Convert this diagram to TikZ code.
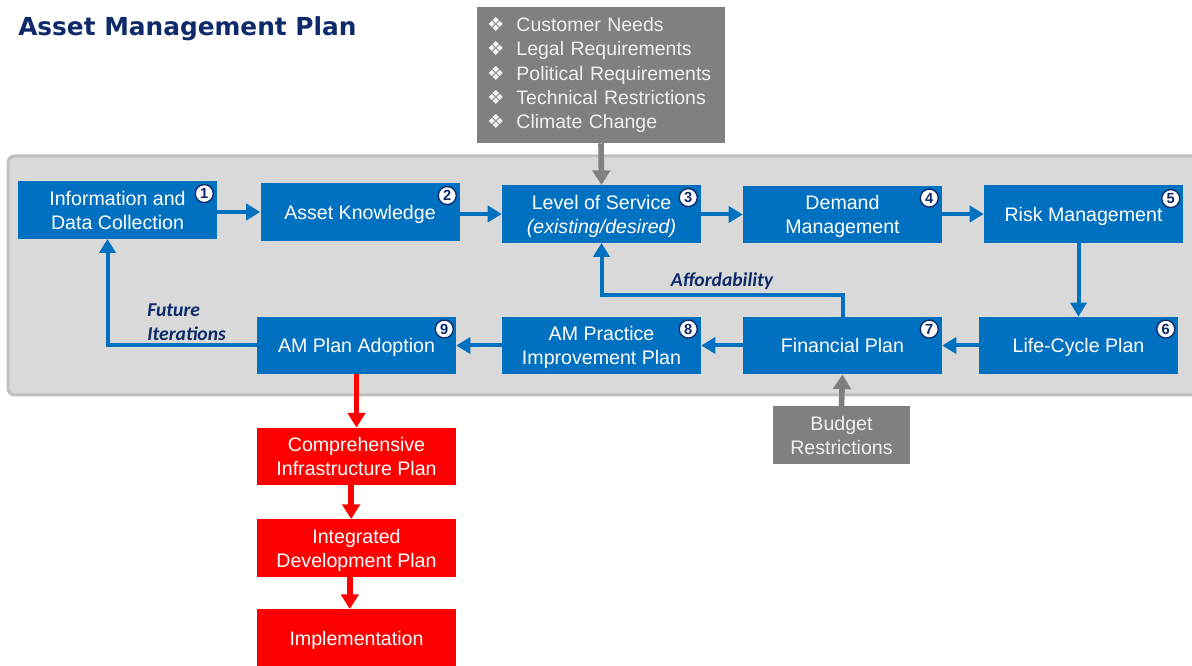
\documentclass[tikz,border=0pt]{standalone}
\usepackage{fontspec}
\usepackage{tikz}
\usetikzlibrary{arrows.meta}
\setmainfont{Liberation Sans}
\newfontfamily\titlefont{DejaVu Sans}
\newfontfamily\symfont{DejaVu Sans}
\newfontfamily\notefont{Carlito}
\definecolor{amblue}{HTML}{0070C0}
\definecolor{amred}{HTML}{FF0000}
\definecolor{amgray}{HTML}{808080}
\definecolor{panelfill}{HTML}{D9D9D9}
\definecolor{panelline}{HTML}{BFBFBF}
\definecolor{navy}{HTML}{0E2A6B}
\newcommand{\dm}{{\symfont ❖}\hspace{9pt}}

\begin{document}
\begin{tikzpicture}[x=0.75pt,y=-0.75pt,
    box/.style={fill=amblue, text=white, minimum width=149.25pt, minimum height=43pt, inner sep=0pt, align=center, font=\fontsize{14.7}{18}\selectfont},
    low/.style={text depth=-1pt},
    redbox/.style={box, fill=amred},
    graybox/.style={box, fill=amgray, text=white!94!black},
    num/.style={circle, fill=white, draw=navy, line width=1pt, minimum size=13.5pt, inner sep=0pt, text=navy, font=\fontsize{11}{11}\selectfont\bfseries},
    arr/.style={amblue, line width=3pt, -{Triangle[length=10.5pt,width=12pt]}},
    redarr/.style={amred, line width=4.2pt, -{Triangle[length=11pt,width=13pt]}},
    grayarr/.style={amgray, line width=4.2pt, -{Triangle[length=11pt,width=13pt]}},
    note/.style={text=navy, font=\notefont\fontsize{14.7}{18}\selectfont\bfseries\itshape}]
        \useasboundingbox (0,0) rectangle (1192,666);
        \node[anchor=base west, inner sep=0pt, text=navy, font=\titlefont\bfseries\fontsize{18.6}{22}\selectfont] (title) at (18,36) {Asset Management Plan};
        \draw[panelline, fill=panelfill, line width=2.25pt, rounded corners=5pt] (8,156) rectangle (1210,395);

        \node[graybox, minimum width=186pt, minimum height=102pt, text width=171pt, align=left, font=\fontsize{14.6}{18.3}\selectfont] (needs) at (601,75) {\dm Customer Needs\\\dm Legal Requirements\\\dm Political Requirements\\\dm Technical Restrictions\\\dm Climate Change};

        \node[box] (info) at (117.5,210) {Information and\\Data Collection};
        \node[box, low] (know) at (360,212) {Asset Knowledge};
        \node[box, low] (los) at (601.5,214) {Level of Service\\\textit{(existing/desired)}};
        \node[box, low] (demand) at (842.5,214.5) {Demand\\Management};
        \node[box, low] (risk) at (1083.5,214) {Risk Management};
        \node[box, low] (life) at (1078.5,345.5) {Life-Cycle Plan};
        \node[box, low] (fin) at (842.5,345.5) {Financial Plan};
        \node[box, low] (prac) at (601.5,345.5) {AM Practice\\Improvement Plan};
        \node[box, low] (adopt) at (356.5,345.5) {AM Plan Adoption};
        \node[redbox, low] (cip) at (356.5,456.5) {Comprehensive\\Infrastructure Plan};
        \node[redbox, low] (idp) at (356.5,548) {Integrated\\Development Plan};
        \node[redbox, low] (impl) at (356.5,638) {Implementation};
        \node[graybox, minimum width=102.75pt] (budget) at (841.5,435) {Budget\\Restrictions};

        \node[num] (n1) at ([shift={(-13,12.5)}]info.north east) {1};
        \node[num] (n2) at ([shift={(-12.5,12.5)}]know.north east) {2};
        \node[num] (n3) at ([shift={(-13,12.5)}]los.north east) {3};
        \node[num] (n4) at ([shift={(-13,12.5)}]demand.north east) {4};
        \node[num] (n5) at ([shift={(-12.5,13.5)}]risk.north east) {5};
        \node[num] (n6) at ([shift={(-12.5,12.5)}]life.north east) {6};
        \node[num] (n7) at ([shift={(-13,12.5)}]fin.north east) {7};
        \node[num] (n8) at ([shift={(-13,12.5)}]prac.north east) {8};
        \node[num] (n9) at ([shift={(-12,12.5)}]adopt.north east) {9};

        \draw[arr] (info.east |- know) -- (know.west);
        \draw[arr] (know.east |- los) -- (los.west);
        \draw[arr] (los.east |- demand) -- (demand.west);
        \draw[arr] (demand.east |- risk) -- (risk.west);
        \draw[arr] (risk.south -| life) -- (life.north);
        \draw[arr] (life.west) -- (fin.east);
        \draw[arr] (fin.west) -- (prac.east);
        \draw[arr] (prac.west) -- (adopt.east);
        \draw[arr] (fin.north) -- ++(0,-22) -| (los.south);
        \draw[arr] (adopt.west) -| ([xshift=-7.5pt]info.south);
        \draw[grayarr] (needs.south) -- (los.north);
        \draw[grayarr] (budget.north) -- (fin.south);
        \draw[redarr] (adopt.south) -- (cip.north);
        \draw[redarr] ([xshift=-4pt]cip.south) -- ([xshift=-4pt]idp.north);
        \draw[redarr] ([xshift=-5pt]idp.south) -- ([xshift=-5pt]impl.north);

        \node[note, anchor=base] (afford) at (722,287) {Affordability};
        \node[note, anchor=north west, inner sep=0pt, align=left] (future) at (147,304) {Future\\Iterations};
    \end{tikzpicture}
\end{document}
